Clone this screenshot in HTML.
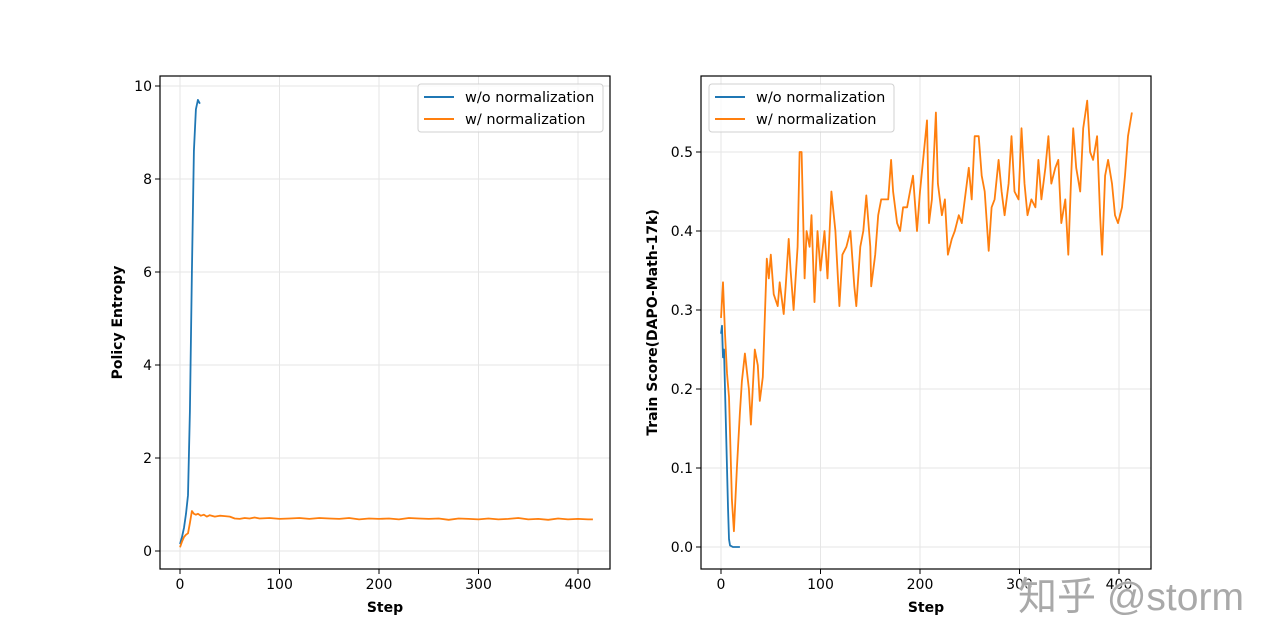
<!DOCTYPE html>
<html><head><meta charset="utf-8">
<style>
html,body{margin:0;padding:0;background:#fff;}
body{width:1280px;height:640px;overflow:hidden;position:relative;font-family:"DejaVu Sans","Liberation Sans",sans-serif;}
svg text{font-family:"DejaVu Sans","Liberation Sans",sans-serif;}
</style></head><body>
<svg id="fig" width="1280" height="640" viewBox="0 0 1280 640" xmlns="http://www.w3.org/2000/svg"></svg>
<div style="position:absolute;left:1018px;top:566px;font-family:'Liberation Sans','Noto Sans CJK SC',sans-serif;font-size:39px;color:#a9a9a9;text-shadow:0 0 2px #fff,0 0 2px #fff;white-space:nowrap;">知乎 @storm</div>
<script>
// ---- data ----
const leftXTicks = [0,100,200,300,400];
const leftYTicks = [0,2,4,6,8,10];
const rightXTicks = [0,100,200,300,400];
const rightYTicks = [0.0,0.1,0.2,0.3,0.4,0.5];
const rightYTickLabels = ["0.0","0.1","0.2","0.3","0.4","0.5"];

const entropyWoSteps = [0,2,4,6,8,10,12,14,16,18,20];
const entropyWoValues = [0.15,0.3,0.5,0.8,1.2,3.0,6.0,8.6,9.5,9.7,9.62];
const entropyWSteps = [0,2,4,6,8,10,12,14,16,18,21,24,27,30,35,40,45,50,55,60,65,70,75,80,90,100,110,120,130,140,150,160,170,180,190,200,210,220,230,240,250,260,270,280,290,300,310,320,330,340,350,360,370,380,390,400,410,415];
const entropyWValues = [0.08,0.2,0.3,0.35,0.38,0.6,0.86,0.8,0.78,0.8,0.76,0.78,0.74,0.77,0.74,0.76,0.75,0.74,0.7,0.69,0.71,0.7,0.72,0.7,0.71,0.69,0.7,0.71,0.69,0.71,0.7,0.69,0.71,0.68,0.7,0.69,0.7,0.68,0.71,0.7,0.69,0.7,0.67,0.7,0.69,0.68,0.7,0.68,0.69,0.71,0.68,0.69,0.67,0.7,0.68,0.69,0.68,0.68];

const scoreWoSteps = [0,1,2,3,4,5,6,7,8,9,12,19];
const scoreWoValues = [0.27,0.28,0.24,0.25,0.2,0.15,0.1,0.05,0.01,0.002,0.0,0.0];
const scoreWSteps = [0,2,4,6,8,11,13,16,19,21,24,28,30,34,37,39,42,46,48,50,53,57,59,63,65,68,70,73,77,79,81,84,86,89,91,94,97,100,104,107,111,115,119,122,126,130,134,136,140,143,146,150,151,155,158,161,165,168,171,173,177,180,183,187,190,193,197,200,207,209,212,216,218,222,225,228,232,235,239,242,245,249,252,255,259,262,265,269,272,275,279,282,285,289,292,295,299,302,305,308,312,316,319,322,326,329,332,336,339,342,346,349,352,354,357,361,364,368,371,374,378,381,383,386,389,393,396,399,403,406,409,413];
const scoreWValues = [0.29,0.335,0.27,0.22,0.19,0.06,0.02,0.1,0.17,0.21,0.245,0.2,0.155,0.25,0.23,0.185,0.215,0.365,0.34,0.37,0.32,0.305,0.335,0.295,0.33,0.39,0.35,0.3,0.38,0.5,0.5,0.34,0.4,0.38,0.42,0.31,0.4,0.35,0.4,0.34,0.45,0.4,0.305,0.37,0.38,0.4,0.33,0.305,0.38,0.4,0.445,0.38,0.33,0.37,0.42,0.44,0.44,0.44,0.49,0.45,0.41,0.4,0.43,0.43,0.45,0.47,0.4,0.45,0.54,0.41,0.44,0.55,0.46,0.42,0.44,0.37,0.39,0.4,0.42,0.41,0.44,0.48,0.44,0.52,0.52,0.47,0.45,0.375,0.43,0.44,0.49,0.45,0.42,0.46,0.52,0.45,0.44,0.53,0.46,0.42,0.44,0.43,0.49,0.44,0.48,0.52,0.46,0.48,0.49,0.41,0.44,0.37,0.47,0.53,0.48,0.45,0.53,0.565,0.5,0.49,0.52,0.42,0.37,0.47,0.49,0.46,0.42,0.41,0.43,0.47,0.52,0.55];

const BLUE="#1f77b4", ORANGE="#ff7f0e";
const NS="http://www.w3.org/2000/svg";
const svg=document.getElementById('fig');
function mk(tag,attrs,parent){const e=document.createElementNS(NS,tag);for(const k in attrs)e.setAttribute(k,attrs[k]);(parent||svg).appendChild(e);return e;}

function panel(o){
  const g=mk('g',{});
  
  
  const sx=v=>o.x0+(v-o.xmin)/(o.xmax-o.xmin)*(o.x1-o.x0);
  const sy=v=>o.y0-(v-o.ymin)/(o.ymax-o.ymin)*(o.y0-o.y1);
  o.xt.forEach(t=>{
    const X=sx(t);
    const gl=mk('line',{x1:X,x2:X,y1:o.bt,y2:o.bb,stroke:'#e6e6e6','stroke-width':1},g);
    
    
    mk('line',{x1:X,x2:X,y1:o.bb,y2:o.bb+5,stroke:'#000','stroke-width':1},g);
    const tx=mk('text',{x:X,y:o.bb+20,'font-size':14,'text-anchor':'middle',fill:'#000'},g);
    tx.textContent=t;
    
    
  });
  o.yt.forEach((t,i)=>{
    const Y=sy(t);
    const gl=mk('line',{x1:o.bl,x2:o.br,y1:Y,y2:Y,stroke:'#e6e6e6','stroke-width':1},g);
    
    
    mk('line',{x1:o.bl-5,x2:o.bl,y1:Y,y2:Y,stroke:'#000','stroke-width':1},g);
    const tx=mk('text',{x:o.bl-8,y:Y+5,'font-size':14,'text-anchor':'end',fill:'#000'},g);
    tx.textContent=o.ytl?o.ytl[i]:t;
    
    
  });
  o.series.forEach(s=>{
    const d=s.xs.map((x,i)=>(i?'L':'M')+sx(x).toFixed(1)+','+sy(s.ys[i]).toFixed(1)).join('');
    const p=mk('path',{d:d,fill:'none',stroke:s.color,'stroke-width':1.8,'stroke-linejoin':'round'},g);
    
    
  });
  const fr=mk('rect',{x:o.bl,y:o.bt,width:o.br-o.bl,height:o.bb-o.bt,fill:'none',stroke:'#000','stroke-width':1.2},g);
  
  
  const xl=mk('text',{x:(o.bl+o.br)/2,y:o.bb+43,'font-size':14,'font-weight':'bold','text-anchor':'middle'},g);
  xl.textContent='Step';
  
  
  const yl=mk('text',{x:0,y:0,'font-size':14,'font-weight':'bold','text-anchor':'middle',transform:`translate(${o.ylx},${(o.bt+o.bb)/2}) rotate(-90)`},g);
  yl.textContent=o.ylabel;
  
  
  const lg=mk('g',{},g);
  
  
  mk('rect',{x:o.lx,y:84,width:o.lw,height:48,rx:3,fill:'#fff','fill-opacity':0.8,stroke:'#d0d0d0'},lg);
  [['w/o normalization',BLUE,97],['w/ normalization',ORANGE,119]].forEach(e=>{
    mk('line',{x1:o.lx+6,x2:o.lx+36,y1:e[2],y2:e[2],stroke:e[1],'stroke-width':2},lg);
    const t=mk('text',{x:o.lx+47,y:e[2]+5,'font-size':14.5},lg);
    t.textContent=e[0];
    
    
  });
}

panel({name:'policy-entropy-chart',bl:160,br:610,bt:76,bb:569,x0:180,x1:578,xmin:0,xmax:400,y0:551,y1:86,ymin:0,ymax:10,
  xt:leftXTicks,yt:leftYTicks,ylabel:'Policy Entropy',ylx:122,lx:418,lw:185,
  series:[{name:'entropy-wo-normalization-line',xs:entropyWoSteps,ys:entropyWoValues,color:BLUE},
          {name:'entropy-w-normalization-line',xs:entropyWSteps,ys:entropyWValues,color:ORANGE}]});
panel({name:'train-score-chart',bl:701,br:1151,bt:76,bb:569,x0:721,x1:1119,xmin:0,xmax:400,y0:547,y1:152,ymin:0,ymax:0.5,
  xt:rightXTicks,yt:rightYTicks,ytl:rightYTickLabels,ylabel:'Train Score(DAPO-Math-17k)',ylx:657,lx:709,lw:185,
  series:[{name:'score-w-normalization-line',xs:scoreWSteps,ys:scoreWValues,color:ORANGE},
          {name:'score-wo-normalization-line',xs:scoreWoSteps,ys:scoreWoValues,color:BLUE}]});
</script>
</body></html>
